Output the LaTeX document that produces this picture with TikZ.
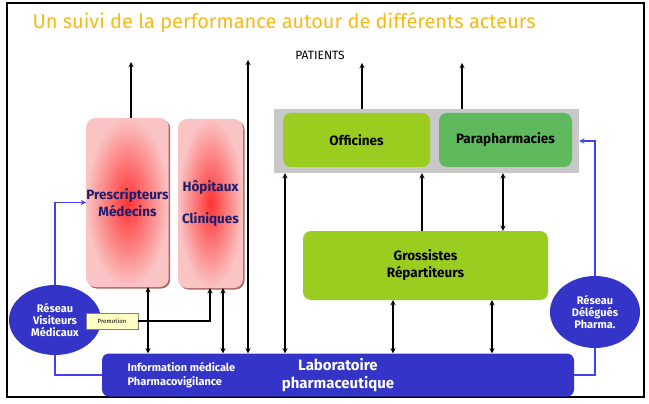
\documentclass[tikz,border=0pt]{standalone}
\usepackage{fontspec}
\setmainfont{Fira Sans}
\usetikzlibrary{shapes,arrows,positioning,calc,shadows}
\definecolor{titleorange}{RGB}{246,186,22}
\definecolor{navytext}{RGB}{30,30,110}
\definecolor{pinkfill}{RGB}{250,196,196}
\definecolor{limegreen}{RGB}{155,205,32}
\definecolor{paragreen}{RGB}{94,184,92}
\definecolor{greybg}{RGB}{200,200,200}
\definecolor{labblue}{RGB}{52,52,200}
\definecolor{lineblue}{RGB}{64,64,245}
\definecolor{promofill}{RGB}{255,255,196}

\begin{document}
\begin{tikzpicture}[x=1pt, y=-1pt,
    pinkbox/.style={rectangle, rounded corners=9pt, inner sep=0pt, shading=radial, inner color=red!80, outer color=pinkfill, text=navytext, font=\bfseries\fontsize{13.5}{17}\selectfont, align=center, drop shadow={shadow xshift=1.5pt, shadow yshift=-1.5pt, fill=red!45!black, opacity=0.6}},
    greenbox/.style={rectangle, rounded corners=8pt, inner sep=0pt, fill=limegreen, font=\bfseries\fontsize{13.5}{17}\selectfont, align=center},
    network/.style={ellipse, inner sep=0pt, fill=labblue, text=white, font=\bfseries\fontsize{11}{12}\selectfont, align=center},
    arrow/.style={->, >=stealth, line width=1.3pt},
    dblarrow/.style={<->, >=stealth, line width=1.3pt},
    bluearrow/.style={->, >=stealth, line width=1.3pt, lineblue},
    blueline/.style={line width=1.3pt, lineblue}
]
    \useasboundingbox (0,0) rectangle (649,404);
    \draw[line width=2pt] (7,3) rectangle (644,397);

    \node[anchor=west, text=titleorange, font=\fontsize{20}{24}\selectfont] (title) at (29,23) {Un suivi de la performance autour de différents acteurs};
    \node[font=\fontsize{12}{14}\selectfont] (patients) at (320,55) {PATIENTS};

    \node[pinkbox, minimum width=81pt, minimum height=169pt] (presc) at (127.5,202.5) {Prescripteurs\\Médecins};
    \node[pinkbox, minimum width=65pt, minimum height=169pt] (hopit) at (210.5,203.5) {Hôpitaux\\[15pt]Cliniques};

    \node[rectangle, fill=greybg, minimum width=305pt, minimum height=64pt, inner sep=0pt] (pharma) at (426.5,141) {};
    \node[greenbox, minimum width=147pt, minimum height=54pt] (offic) at (356.5,140) {Officines};
    \node[greenbox, fill=paragreen, minimum width=133pt, minimum height=54pt] (parap) at (505.5,140) {Parapharmacies};
    \node[greenbox, minimum width=245pt, minimum height=69pt] (gross) at (425.5,265.5) {Grossistes\\Répartiteurs};

    \node[rectangle, rounded corners=7pt, fill=labblue, text=white, minimum width=472pt, minimum height=43pt, inner sep=0pt, font=\bfseries\fontsize{15}{18}\selectfont, align=center] (labo) at (338,375) {Laboratoire\\pharmaceutique};
    \node[anchor=west, text=white, font=\bfseries\fontsize{11}{14}\selectfont, align=left] (info) at (124,375) {Information médicale\\Pharmacovigilance};

    \node[network, minimum width=92pt, minimum height=70pt] (visit) at (55,320) {Réseau\\Visiteurs\\Médicaux};
    \node[network, minimum width=90pt, minimum height=72pt] (deleg) at (595,312) {Réseau\\Délégués\\Pharma.};
    \node[rectangle, draw=gray, fill=promofill, minimum width=52pt, minimum height=16pt, inner sep=0pt, font=\fontsize{6}{7}\selectfont] (promo) at (112,321) {Promotion};

    \coordinate (up1) at (131,62);
    \coordinate (up2) at (248,60);
    \coordinate (up3) at (362,63);
    \coordinate (up4) at (462,63);
    \coordinate (bend) at (210,321);

    \draw[arrow] (131,0 |- presc.north) -- (up1);
    \draw[dblarrow] (up2) -- (up2 |- labo.north);
    \draw[arrow] (up3 |- pharma.north) -- (up3);
    \draw[arrow] (up4 |- pharma.north) -- (up4);

    \draw[dblarrow] (148,0 |- presc.south) -- (148,0 |- labo.north);
    \draw[dblarrow] (223,0 |- hopit.south) -- (223,0 |- labo.north);
    \draw[arrow] (promo.east) -- (bend) -- (bend |- hopit.south);
    \draw[dblarrow] (285,0 |- pharma.south) -- (285,0 |- labo.north);
    \draw[arrow] (422,0 |- gross.north) -- (422,0 |- pharma.south);
    \draw[dblarrow] (503,0 |- pharma.south) -- (503,0 |- gross.north);
    \draw[dblarrow] (393,0 |- gross.south) -- (393,0 |- labo.north);
    \draw[dblarrow] (492,0 |- gross.south) -- (492,0 |- labo.north);

    \draw[bluearrow] (visit.north) |- (presc.west);
    \draw[blueline] (visit.south) |- (labo.west);
    \draw[bluearrow] (deleg.north) |- (pharma.east);
    \draw[blueline] (deleg.south) |- (labo.east);
\end{tikzpicture}
\end{document}
